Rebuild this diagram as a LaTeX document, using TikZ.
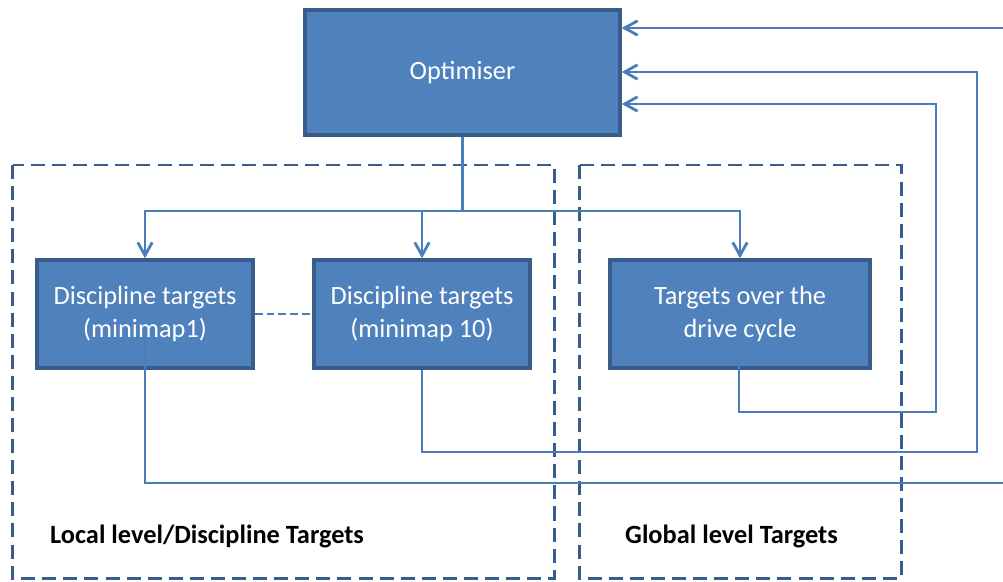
\documentclass[tikz,border=0pt]{standalone}
\usepackage{fontspec}
\setmainfont{Carlito}
\usetikzlibrary{positioning,arrows.meta}
\definecolor{boxfill}{HTML}{4F81BD}
\definecolor{boxline}{HTML}{385D8A}
\definecolor{linkblue}{HTML}{4A7EBB}
\tikzset{
  flowline/.style={draw=linkblue, line width=1.6pt},
  flowarrow/.style={flowline, -{Straight Barb[length=2.6mm, width=2.9mm]}},
  target/.style={draw=boxline, line width=2pt, fill=boxfill, text=white, align=center, minimum width=4.32cm, minimum height=2.16cm, inner sep=0pt},
  levelbox/.style={draw=boxline, line width=1.7pt, dash pattern=on 8pt off 4pt},
  levellabel/.style={font=\fontsize{15}{18}\selectfont\bfseries, anchor=west}
}

\begin{document}
\begin{tikzpicture}[x=0.02cm, y=-0.02cm, every node/.style={font=\fontsize{15}{19}\selectfont}]
  \useasboundingbox (0,0) rectangle (1003,581);
  % the two levels
  \draw[levelbox] (12.5,165) rectangle (554,578);
  \draw[levelbox] (579,165) rectangle (901,578);
  \node[levellabel] (locallbl) at (44,536) {Local level/Discipline Targets};
  \node[levellabel] (globallbl) at (619,536) {Global level Targets};

  \node[target, minimum width=6.3cm, minimum height=2.5cm] (opt) at (462.5,72.5) {Optimiser};
  \node[target] (mm1) at (145,314) {Discipline targets\\(minimap1)};
  \node[target] (mm10) at (422,314) {Discipline targets\\(minimap 10)};
  \node[target, minimum width=5.2cm] (drive) at (740,314) {Targets over the\\drive cycle};

  % optimiser feeds the targets
  \draw[flowline] (opt.south) -- (opt.south |- 0,211) coordinate (bus);
  \draw[flowarrow] (bus) -| (mm1.north);
  \draw[flowarrow] (bus) -| (mm10.north);
  \draw[flowarrow] (bus) -| (drive.north);
  \draw[flowline, dash pattern=on 4.5pt off 2.2pt] (mm1.east) -- (mm10.west);

  % results go back to the optimiser
  \coordinate (back1) at (145,338);
  \coordinate (back3) at (739,358);
  \draw[flowarrow] (back3) |- (936,412) |- (opt.east |- 0,104);
  \draw[flowarrow] (mm10.south) |- (977,452) |- (opt.east |- 0,72);
  \draw[flowarrow] (back1) |- (1015,483) |- (opt.east |- 0,28);
\end{tikzpicture}
\end{document}
